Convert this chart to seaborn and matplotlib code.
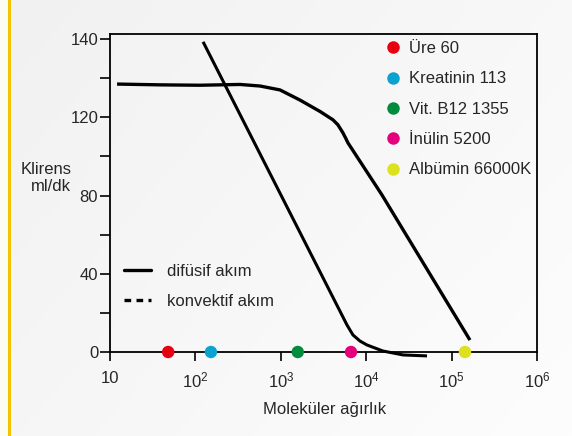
import numpy as np
import pandas as pd
import matplotlib
matplotlib.use("Agg")
import matplotlib.pyplot as plt
from matplotlib.lines import Line2D
import seaborn as sns

# ---------------- data ----------------
# curve A (flat then declining)
curveA_x = [12.1, 38.5, 113, 333, 571, 979, 1680, 2877, 4085, 4677, 5350, 5728, 6120, 15300, 164000]
curveA_y = [128.5, 128.3, 128.2, 128.4, 128.0, 127.0, 124.4, 121.5, 118.7, 116.1, 112.0, 109.5, 106.9, 80.3, 6.1]
# curve B (steep decline)
curveB_x = [123, 5960, 7000, 8460, 10200, 15700, 27000, 51500]
curveB_y = [139.3, 13.8, 8.7, 5.6, 3.6, 0.5, -1.5, -2.0]

molecules = ["Üre 60", "Kreatinin 113", "Vit. B12 1355", "İnülin 5200", "Albümin 66000K"]
mol_x = [48, 152, 1580, 6640, 143500]
mol_y = [0, 0, 0, 0, 0]
mol_colors = ["#e60012", "#0aa2cf", "#008c3c", "#e5007d", "#dde120"]

legend_labels = ["difüsif akım", "konvektif akım"]

x_ticks = [10, 1e2, 1e3, 1e4, 1e5, 1e6]
x_ticklabels = ["10", r"$\mathregular{10^2}$", r"$\mathregular{10^3}$", r"$\mathregular{10^4}$",
                r"$\mathregular{10^5}$", r"$\mathregular{10^6}$"]
y_ticks = [0, 40, 80, 120, 140]
y_minor = [20, 60, 100, 130]

# ---------------- style ----------------
sns.set_style("ticks")
plt.rcParams["font.family"] = ["Liberation Sans Narrow", "Liberation Sans", "DejaVu Sans"]
plt.rcParams["mathtext.fontset"] = "custom"
plt.rcParams["mathtext.rm"] = "Liberation Sans"

FS = 12

fig = plt.figure(figsize=(5.72, 4.36), dpi=100)
fig.patch.set_facecolor("#f5f5f5")

# background gradient
bg = fig.add_axes([0, 0, 1, 1], zorder=-10)
gx, gy = np.meshgrid(np.linspace(0, 1, 200), np.linspace(0, 1, 200))
g = 0.6 * gx + 0.4 * gy
bg.imshow(g, cmap=matplotlib.colors.LinearSegmentedColormap.from_list("g", ["#f1f1f1", "#fdfdfd"]),
          extent=[0, 1, 0, 1], aspect="auto", origin="upper")
bg.add_patch(plt.Rectangle((0, 0), 8 / 572, 1, color="#fdfcf1", transform=bg.transAxes, lw=0))
bg.add_patch(plt.Rectangle((8 / 572, 0), 3 / 572, 1, color="#f4c300", transform=bg.transAxes, lw=0))
bg.set_axis_off()

ax = fig.add_axes([110 / 572, 1 - 352 / 436, 427 / 572, 318 / 436])
ax.set_facecolor("none")

ypts_v = [0, 40, 80, 120, 140, 160]
ypts_p = [0, 1, 2, 3, 4, 5]


def fwd(v):
    v = np.asarray(v, dtype=float)
    return np.interp(v, ypts_v, ypts_p) + np.where(v < 0, v / 40.0, 0)


def inv(p):
    p = np.asarray(p, dtype=float)
    return np.interp(p, ypts_p, ypts_v) + np.where(p < 0, p * 40.0, 0)


ax.set_xscale("log")
ax.set_yscale("function", functions=(fwd, inv))

dfA = pd.DataFrame({"x": curveA_x, "y": curveA_y})
dfB = pd.DataFrame({"x": curveB_x, "y": curveB_y})
sns.lineplot(data=dfA, x="x", y="y", ax=ax, color="black", lw=2.4, sort=False, estimator=None,
             clip_on=False, solid_capstyle="butt", solid_joinstyle="round")
sns.lineplot(data=dfB, x="x", y="y", ax=ax, color="black", lw=2.2, sort=False, estimator=None,
             clip_on=False, solid_capstyle="butt", solid_joinstyle="round")

dfM = pd.DataFrame({"x": mol_x, "y": mol_y, "m": molecules})
sns.scatterplot(data=dfM, x="x", y="y", hue="m", palette=mol_colors, ax=ax, s=80,
                edgecolor="none", clip_on=False, zorder=5, legend=False)

ax.set_xlim(10, 1e6)
ax.set_ylim(0, 141.3)

ax.set_xticks(x_ticks)
ax.set_xticklabels(x_ticklabels)
ax.xaxis.set_minor_locator(matplotlib.ticker.NullLocator())
ax.set_yticks(y_ticks)
ax.set_yticklabels([str(v) for v in y_ticks])
ax.set_yticks(y_minor, minor=True)

ax.tick_params(axis="x", which="major", direction="out", length=6.5, width=1.2, pad=7,
               labelsize=FS, color="black")
ax.tick_params(axis="y", which="both", direction="out", length=7, width=1.2, pad=1.5,
               labelsize=FS, color="black")
for s in ax.spines.values():
    s.set_color("black")
    s.set_linewidth(1.3)

ax.set_xlabel("Moleküler ağırlık", fontsize=FS, va="center")
ax.xaxis.set_label_coords(0.502, -0.182)
ax.set_ylabel("Klirens\nml/dk", fontsize=FS, rotation=0, ha="right", va="center",
              multialignment="right", linespacing=1.1)
ax.yaxis.set_label_coords(-0.091, 0.547)

# line-style legend
h1 = [Line2D([], [], color="black", lw=2.4),
      Line2D([], [], color="black", lw=2.4, ls=(0, (2, 1.6)))]
leg1 = ax.legend(h1, legend_labels, loc="upper left", bbox_to_anchor=((124 - 110) / 427, (352 - 264) / 318),
                 frameon=False, fontsize=FS, handlelength=1.6, handletextpad=1.0,
                 borderpad=0, borderaxespad=0, labelspacing=0.9)
ax.add_artist(leg1)

# molecule legend
h2 = [Line2D([], [], ls="none", marker="o", markersize=9, markerfacecolor=c, markeredgecolor="none")
      for c in mol_colors]
ax.legend(h2, molecules, loc="upper left", bbox_to_anchor=((385 - 110) / 427, (352 - 41) / 318),
          frameon=False, fontsize=FS, handlelength=1.0, handletextpad=0.45,
          borderpad=0, borderaxespad=0, labelspacing=0.92)

fig.savefig("out.png", dpi=100, facecolor=fig.get_facecolor())
